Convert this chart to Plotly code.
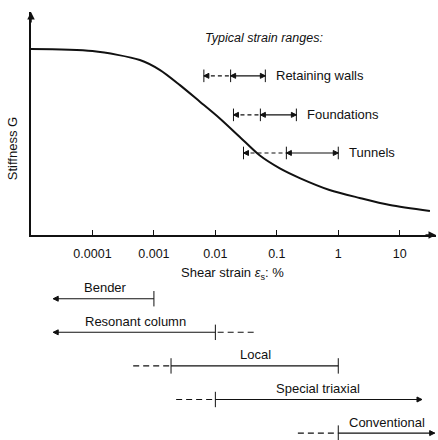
import math

import plotly.graph_objects as go

INK = "#111111"
FONT = "Liberation Sans, Arial, sans-serif"

# stiffness curve (G normalised to the plateau)
strain = [1e-5, 1e-4, 5.9e-4, 1.26e-3, 2.65e-3, 5.6e-3, 0.0117, 0.025, 0.053, 0.112, 0.236, 0.72, 2.23, 6.9, 31]
stiffness = [1.0, 0.989, 0.941, 0.887, 0.806, 0.717, 0.628, 0.527, 0.427, 0.358, 0.306, 0.242, 0.199, 0.161, 0.129]

tick_vals = [1e-4, 1e-3, 1e-2, 0.1, 1, 10]
tick_text = ["0.0001", "0.001", "0.01", "0.1", "1", "10"]

# typical strain ranges: dashed from left to mid, solid from mid to right
range_names = ["Retaining walls", "Foundations", "Tunnels"]
range_left = [0.0065, 0.0197, 0.0287]
range_mid = [0.0177, 0.054, 0.143]
range_right = [0.065, 0.208, 1.0]
range_level = [0.856, 0.646, 0.441]

# test apparatus ranges
test_names = ["Bender", "Resonant column", "Local", "Special triaxial", "Conventional"]
test_row = [4, 3, 2, 1, 0]
test_dash_from = [None, 0.042, 4.6e-4, 0.0023, 0.22]
test_solid_from = [0.001, 0.01, 0.0019, 0.01, 1.0]
test_solid_to = [2.3e-5, 2.3e-5, 1.0, 23, 37]
test_end = ["arrow", "arrow", "bar", "arrow", "arrow"]
test_label_x = [1.6e-4, 5e-4, 0.045, 0.46, 6.2]

fig = go.Figure()


def line(xs, y, dash="solid", width=1.1, xa="x", ya="y"):
    fig.add_trace(go.Scatter(
        x=xs, y=[y] * len(xs), mode="lines", xaxis=xa, yaxis=ya,
        line=dict(color=INK, width=width, dash=dash),
        showlegend=False, hoverinfo="skip", cliponaxis=False,
    ))


def mark(xs, y, symbol, size, xa="x", ya="y"):
    fig.add_trace(go.Scatter(
        x=xs, y=[y] * len(xs), mode="markers", xaxis=xa, yaxis=ya,
        marker=dict(symbol=symbol, size=size, color=INK, line=dict(color=INK, width=1)),
        showlegend=False, hoverinfo="skip", cliponaxis=False,
    ))


fig.add_trace(go.Scatter(
    x=strain, y=stiffness, mode="lines", line=dict(color=INK, width=2, shape="spline", smoothing=0.8),
    showlegend=False, hoverinfo="skip",
))

for name, lo, mid, hi, lev in zip(range_names, range_left, range_mid, range_right, range_level):
    line([lo, mid], lev, dash="4px,3px")
    line([mid, hi], lev)
    mark([lo, mid, hi], lev, "line-ns-open", 9)
    mark([lo, mid], lev, "arrow-left", 5)
    mark([hi], lev, "arrow-right", 5)
    # annotations on a log axis take log10 positions
    fig.add_annotation(x=math.log10(hi), y=lev, xref="x", yref="y", text=name, showarrow=False,
                       xanchor="left", xshift=9, font=dict(size=13, color=INK, family=FONT))

for name, row, dfrom, sfrom, sto, end, lx in zip(test_names, test_row, test_dash_from,
                                                 test_solid_from, test_solid_to, test_end, test_label_x):
    if dfrom is not None:
        line([dfrom, sfrom], row, dash="6px,4px", xa="x2", ya="y2")
    line([sfrom, sto], row, xa="x2", ya="y2")
    mark([sfrom], row, "line-ns-open", 11, xa="x2", ya="y2")
    if end == "bar":
        mark([sto], row, "line-ns-open", 11, xa="x2", ya="y2")
    else:
        mark([sto], row, "arrow-left" if sto < sfrom else "arrow-right", 5, xa="x2", ya="y2")
    fig.add_annotation(x=math.log10(lx), y=row, xref="x2", yref="y2", text=name, showarrow=False,
                       yshift=11, font=dict(size=13, color=INK, family=FONT))

fig.add_annotation(x=math.log10(range_left[0]), y=1.06, xref="x", yref="y",
                   text="<i>Typical strain ranges:</i>", showarrow=False, xanchor="left", xshift=-1,
                   font=dict(size=12.5, color=INK, family=FONT))
fig.add_annotation(x=0, y=0.737, xref="paper", yref="paper", text="Stiffness G", textangle=-90,
                   showarrow=False, xanchor="center", xshift=-19,
                   font=dict(size=13, color=INK, family=FONT))
fig.add_annotation(x=0.497, y=0.3795, xref="paper", yref="paper",
                   text="Shear strain <i>ε</i><sub>s</sub>: %", showarrow=False,
                   font=dict(size=13, color=INK, family=FONT))

# axis arrowheads
fig.add_annotation(x=1, y=0.466, xref="paper", yref="paper", text="", showarrow=True,
                   ax=-12, ay=0, arrowhead=2, arrowsize=1, arrowwidth=1.5, arrowcolor=INK)
fig.add_annotation(x=0, y=0.973, xref="paper", yref="paper", text="", showarrow=True,
                   ax=0, ay=12, arrowhead=2, arrowsize=1, arrowwidth=1.5, arrowcolor=INK)

fig.update_layout(
    width=438, height=440,
    margin=dict(l=31, r=2, t=0, b=0),
    paper_bgcolor="white", plot_bgcolor="white",
    font=dict(family=FONT, color=INK),
    xaxis=dict(
        type="log", range=[-5, 1.59], domain=[0, 1], anchor="y",
        tickvals=tick_vals, ticktext=tick_text, ticks="inside", ticklen=5,
        tickwidth=1, tickcolor=INK, showline=True, linewidth=1.5, linecolor=INK,
        showgrid=False, zeroline=False, ticklabelstandoff=6,
        tickfont=dict(size=12.5, color=INK, family=FONT),
    ),
    yaxis=dict(
        range=[0, 1.2], domain=[0.466, 0.973], showline=True, linewidth=1.5,
        linecolor=INK, showticklabels=False, ticks="", showgrid=False, zeroline=False,
    ),
    xaxis2=dict(type="log", matches="x", anchor="y2", visible=False, domain=[0, 1]),
    yaxis2=dict(range=[-0.206, 5.82], domain=[0, 0.46], visible=False),
)

# drop the default page margin so the figure sits at the window's corner
fig.write_html("out.html", config={"displayModeBar": False},
               post_script="document.body.style.margin = '0';")
